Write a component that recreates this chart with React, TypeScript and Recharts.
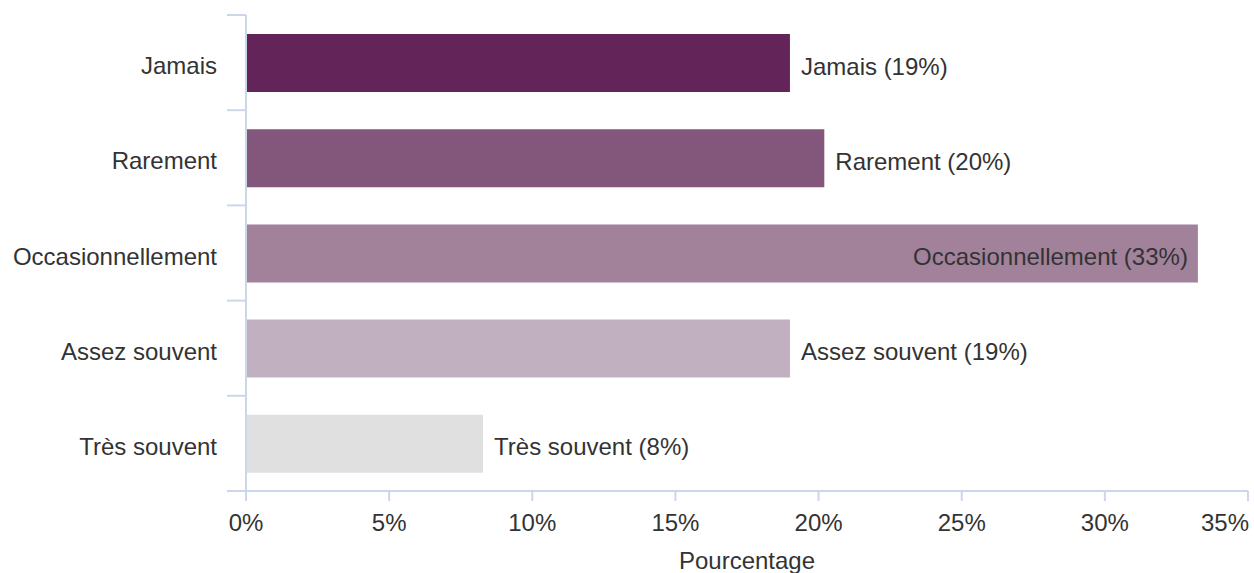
import { Bar, BarChart, Cell, LabelList, XAxis, YAxis } from "recharts";

const categories = ["Jamais", "Rarement", "Occasionnellement", "Assez souvent", "Très souvent"];
const percentages = [19.0, 20.2, 33.25, 19.0, 8.28];
const barColors = ["#632559", "#83577b", "#a2829b", "#c1b0bf", "#e0e0e0"];
const xTicks = [0, 5, 10, 15, 20, 25, 30, 35];

const data = categories.map((name, i) => ({ name, value: percentages[i] }));

const FONT = "'Liberation Sans', Arial, sans-serif";
const FS = 24;
const TEXT = "#333333";
const AXIS = "#ccd6eb";
const PLOT_TOP = 15;
const PLOT_BOTTOM = 491;
const BAND = (PLOT_BOTTOM - PLOT_TOP) / categories.length;

const CategoryTick = (props: any) => {
  const { x, y, payload, index } = props;
  const half = BAND / 2;
  return (
    <g>
      <line x1={x + 10} x2={x + 29} y1={y - half} y2={y - half} stroke={AXIS} strokeWidth={2} />
      {index === categories.length - 1 && (
        <line x1={x + 10} x2={x + 29} y1={y + half} y2={y + half} stroke={AXIS} strokeWidth={2} />
      )}
      <text x={x} y={y + 3} dy="0.355em" textAnchor="end" fill={TEXT} fontSize={FS} fontFamily={FONT}>
        {payload.value}
      </text>
    </g>
  );
};

const PercentTick = (props: any) => {
  const { x, y, payload, index } = props;
  const last = index === xTicks.length - 1;
  return (
    <text
      x={last ? x + 1 : x}
      y={y}
      dy="0.71em"
      textAnchor={last ? "end" : "middle"}
      fill={TEXT}
      fontSize={FS}
      fontFamily={FONT}
    >
      {`${payload.value}%`}
    </text>
  );
};

const BarLabel = (props: any) => {
  const { x, y, width, height, index } = props;
  const label = `${categories[index]} (${Math.round(percentages[index])}%)`;
  const inside = width > 800;
  return (
    <text
      x={inside ? x + width - 10 : x + width + 11}
      y={y + height / 2 + 3}
      dy="0.355em"
      textAnchor={inside ? "end" : "start"}
      fill={TEXT}
      fontSize={FS}
      fontFamily={FONT}
    >
      {label}
    </text>
  );
};

export default function App() {
  return (
    <div style={{ background: "#fff" }}>
      <style>{"body{margin:0}"}</style>
      <BarChart
        width={1254}
        height={573}
        data={data}
        layout="vertical"
        margin={{ top: PLOT_TOP, right: 6, left: 0, bottom: 0 }}
        barSize={58}
      >
        <XAxis
          type="number"
          domain={[0, 35]}
          ticks={xTicks}
          height={573 - PLOT_BOTTOM}
          stroke={AXIS}
          strokeWidth={2}
          tickSize={10}
          tickMargin={13}
          tick={<PercentTick />}
          interval={0}
          label={{
            value: "Pourcentage",
            position: "insideBottom",
            offset: 4,
            fill: TEXT,
            fontSize: FS,
            fontFamily: FONT,
          }}
        />
        <YAxis
          type="category"
          dataKey="name"
          width={246}
          axisLine={{ stroke: AXIS, strokeWidth: 2 }}
          tickLine={false}
          tickSize={6}
          tickMargin={23}
          tick={<CategoryTick />}
          interval={0}
        />
        <Bar dataKey="value" isAnimationActive={false}>
          {data.map((d, i) => (
            <Cell key={d.name} fill={barColors[i]} />
          ))}
          <LabelList dataKey="value" content={<BarLabel />} />
        </Bar>
      </BarChart>
    </div>
  );
}
